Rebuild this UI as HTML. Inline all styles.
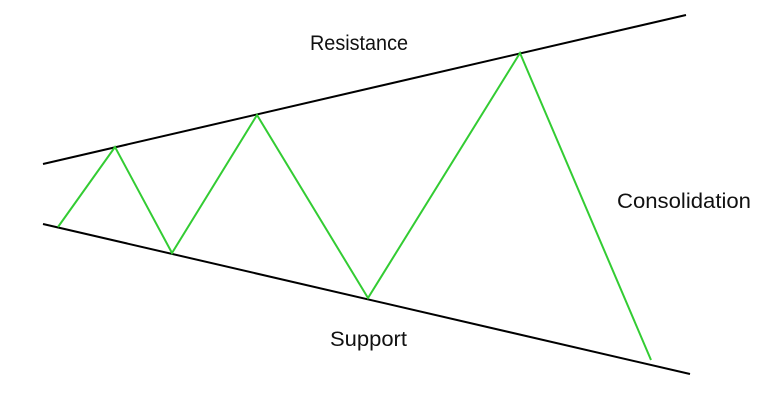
<!DOCTYPE html>
<html><head><style>
html,body{margin:0;padding:0;background:#fff;width:770px;height:408px;overflow:hidden}
svg text{font-family:"Liberation Sans",sans-serif;font-size:21px;fill:#111}
</style></head><body>
<svg width="770" height="408" viewBox="0 0 770 408" xmlns="http://www.w3.org/2000/svg">
<line x1="43" y1="164" x2="686" y2="15" stroke="#000" stroke-width="2"/>
<line x1="43" y1="224" x2="690" y2="374" stroke="#000" stroke-width="2"/>
<polyline points="58,227 115,147 172,253 257,115 368,298 520,53 651,360" fill="none" stroke="#33cc33" stroke-width="2"/>
<text x="310" y="50" textLength="98" lengthAdjust="spacingAndGlyphs">Resistance</text>
<text x="617" y="208" textLength="134" lengthAdjust="spacingAndGlyphs">Consolidation</text>
<text x="330" y="346" textLength="77" lengthAdjust="spacingAndGlyphs">Support</text>
</svg>
</body></html>
